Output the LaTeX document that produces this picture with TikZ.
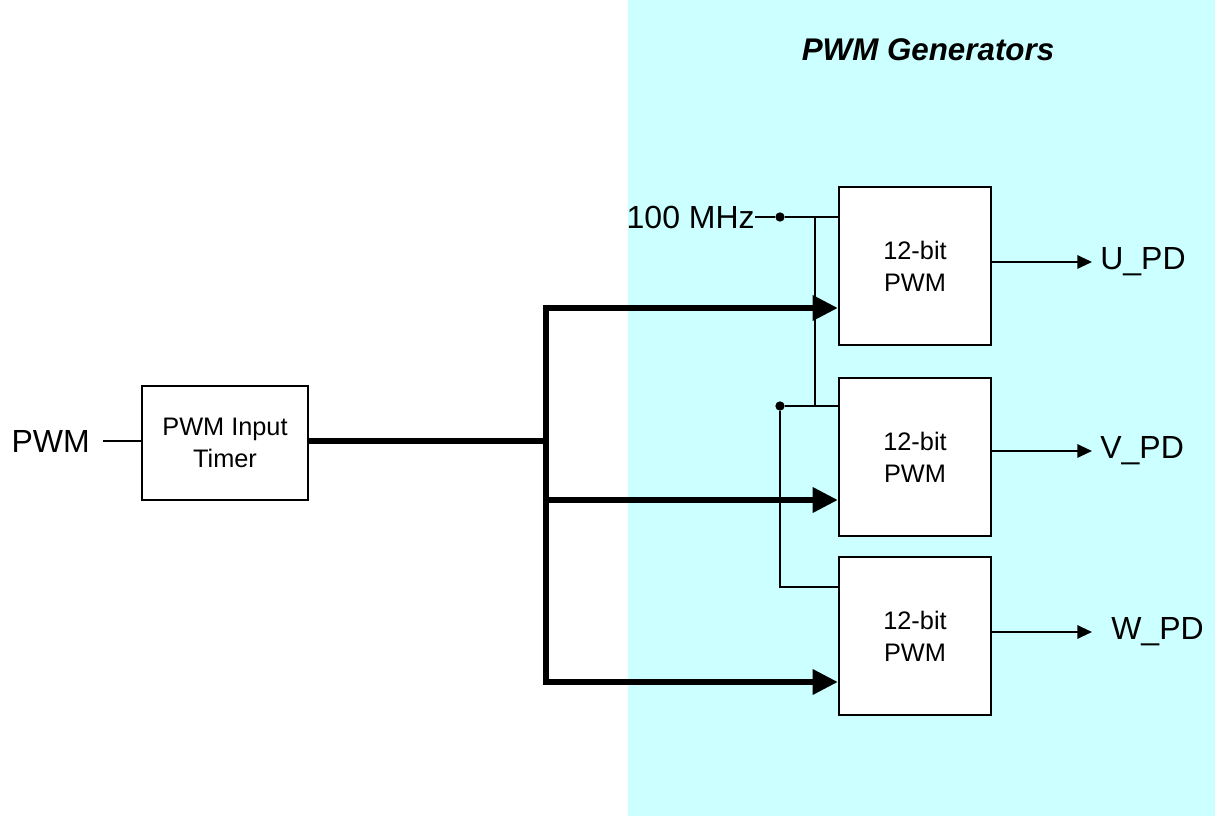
\documentclass[tikz,border=0pt]{standalone}
\usepackage{fontspec}
\setmainfont{Liberation Sans}
\usetikzlibrary{arrows.meta, positioning, calc}
\definecolor{genbg}{RGB}{204,255,255}
\tikzset{
  blk/.style={draw, line width=1.5pt, fill=white, minimum width=114pt, minimum height=118pt,
    align=center, font=\fontsize{19}{24}\selectfont},
  sig/.style={line width=1.5pt},
  bus/.style={line width=4.8pt},
  busarr/.style={bus, -{Triangle[length=19pt,width=18pt]}},
  outarr/.style={sig, -{Triangle[length=11pt,width=10pt]}},
  lbl/.style={font=\fontsize{24}{28}\selectfont, inner sep=0pt},
  junc/.style={circle, fill=black, inner sep=0pt, minimum size=7pt},
}

\begin{document}
\begin{tikzpicture}[x=0.75pt, y=-0.75pt]
    % frame and shaded generator area
    \useasboundingbox (0,0) rectangle (1215,816);
    \fill[genbg] (628,0) rectangle (1215,816);
    \node[font=\fontsize{23.5}{28}\selectfont\bfseries\itshape] (title) at (928,50) {PWM Generators};

    % input side
    \node[blk, minimum width=125pt, minimum height=86pt] (tmr) at (225,443) {PWM Input\\Timer};
    \node[lbl, anchor=east] (pwm) at (90,441) {PWM};
    \draw[sig] (pwm.east) ++(13,0) coordinate (pin) -- (pin -| tmr.west);
    \coordinate (bj) at (546,441);
    \draw[bus] (tmr.east |- bj) -- (bj);

    % generators
    \node[blk] (g1) at (915,266) {12-bit\\PWM};
    \node[blk] (g2) at (915,457) {12-bit\\PWM};
    \node[blk] (g3) at (915,636) {12-bit\\PWM};

    % bus to generators
    \coordinate (b1) at (546,308);
    \coordinate (b2) at (546,500);
    \coordinate (b3) at (546,682);
    \draw[bus] ($(b1)+(0,-3)$) -- ($(b3)+(0,3)$);
    \draw[busarr] (b1) -- (b1 -| g1.west);
    \draw[busarr] (b2) -- (b2 -| g2.west);
    \draw[busarr] (b3) -- (b3 -| g3.west);

    % clock
    \node[lbl, anchor=east] (clk) at (755,217) {100 MHz};
    \node[junc] (j1) at (780,217) {};
    \node[junc] (j2) at (780,406) {};
    \coordinate (c3) at (780,587);
    \draw[sig] (clk.east) -- (j1) -- (j1 -| g1.west);
    \draw[sig] (815,217) -- (815,406);
    \draw[sig] (j2) -- (j2 -| g2.west);
    \draw[sig] (j2) -- (c3) -- (c3 -| g3.west);

    % outputs
    \coordinate (o1) at (1092,262);
    \coordinate (o2) at (1092,451);
    \coordinate (o3) at (1092,632);
    \draw[outarr] (o1 -| g1.east) -- (o1);
    \draw[outarr] (o2 -| g2.east) -- (o2);
    \draw[outarr] (o3 -| g3.east) -- (o3);
    \node[lbl, anchor=west] (u) at (1100,262) {U\_PD};
    \node[lbl, anchor=west] (v) at (1100,451) {V\_PD};
    \node[lbl, anchor=west] (w) at (1111,632) {W\_PD};
\end{tikzpicture}
\end{document}
